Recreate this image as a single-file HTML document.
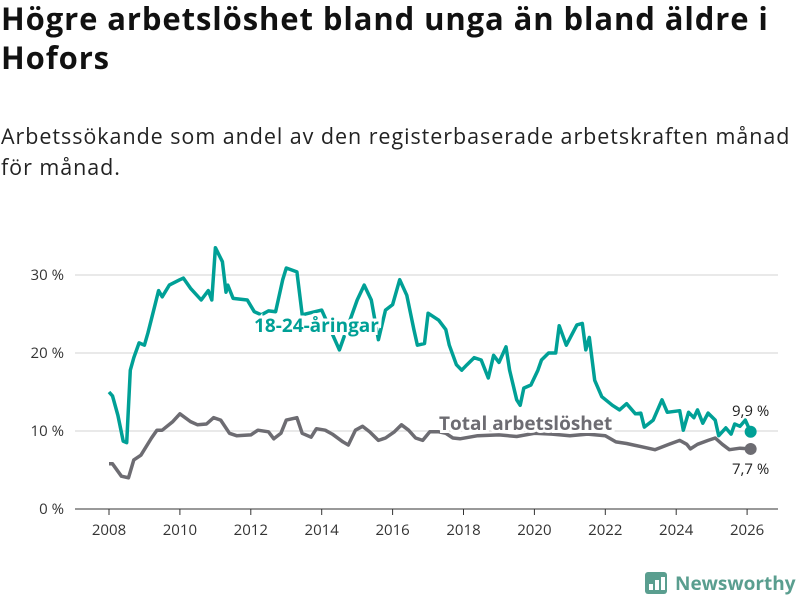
<!DOCTYPE html>
<html><head><meta charset="utf-8">
<style>
body{margin:0;background:#fff;font-family:"Open Sans","DejaVu Sans","Liberation Sans",sans-serif;}
#wrap{position:relative;width:800px;height:600px;overflow:hidden;}
h1{position:absolute;left:1px;top:0;margin:0;font-size:31px;line-height:39px;font-weight:bold;color:#111;width:799px;letter-spacing:0.9px;white-space:nowrap;}
.sub{position:absolute;left:1px;top:121px;font-size:21.5px;line-height:31px;color:#222;width:799px;letter-spacing:0.95px;white-space:nowrap;}
svg{position:absolute;left:0;top:0;}
</style></head><body>
<div id="wrap">
<h1>Högre arbetslöshet bland unga än bland äldre i<br>Hofors</h1>
<div class="sub">Arbetssökande som andel av den registerbaserade arbetskraften månad<br>för månad.</div>
<svg id="chart" width="800" height="600"></svg>
</div>
<script>
const youthT=[2008.0,2008.1,2008.25,2008.4,2008.5,2008.6,2008.7,2008.85,2009.0,2009.1,2009.3,2009.4,2009.5,2009.7,2010.0,2010.1,2010.3,2010.6,2010.8,2010.9,2011.0,2011.2,2011.3,2011.35,2011.5,2011.9,2012.1,2012.3,2012.5,2012.7,2012.9,2013.0,2013.3,2013.45,2014.0,2014.5,2015.0,2015.2,2015.4,2015.6,2015.8,2016.0,2016.2,2016.4,2016.6,2016.7,2016.9,2017.0,2017.3,2017.5,2017.6,2017.8,2017.95,2018.1,2018.3,2018.5,2018.7,2018.85,2019.0,2019.2,2019.3,2019.5,2019.6,2019.7,2019.9,2020.1,2020.2,2020.4,2020.6,2020.7,2020.9,2021.2,2021.35,2021.45,2021.55,2021.7,2021.9,2022.2,2022.4,2022.6,2022.85,2023.0,2023.1,2023.35,2023.6,2023.75,2024.1,2024.2,2024.35,2024.5,2024.6,2024.75,2024.9,2025.1,2025.2,2025.4,2025.55,2025.65,2025.8,2025.95,2026.1];
const youthV=[15.0,14.5,12.0,8.7,8.5,17.8,19.4,21.3,21.0,22.6,26.2,28.0,27.2,28.7,29.4,29.6,28.3,26.8,28.0,26.8,33.5,31.7,27.8,28.7,27.0,26.8,25.3,24.9,25.4,25.3,29.4,30.9,30.4,24.9,25.5,20.4,26.8,28.7,26.8,21.7,25.5,26.2,29.4,27.4,23.0,21.0,21.2,25.1,24.2,23.0,21.0,18.5,17.8,18.5,19.4,19.1,16.8,19.7,18.8,20.8,17.8,14.0,13.3,15.5,15.9,17.8,19.1,20.0,20.0,23.5,21.0,23.6,23.8,20.4,22.0,16.5,14.4,13.3,12.7,13.5,12.2,12.3,10.5,11.4,14.0,12.4,12.6,10.1,12.4,11.7,12.7,11.0,12.3,11.4,9.4,10.4,9.6,10.9,10.6,11.4,9.9];
const totalT=[2008.0,2008.1,2008.35,2008.55,2008.7,2008.9,2009.2,2009.35,2009.5,2009.8,2010.0,2010.3,2010.5,2010.75,2010.95,2011.15,2011.4,2011.6,2012.0,2012.2,2012.5,2012.65,2012.85,2013.0,2013.3,2013.45,2013.7,2013.85,2014.1,2014.3,2014.6,2014.75,2014.95,2015.15,2015.35,2015.6,2015.8,2016.05,2016.25,2016.45,2016.65,2016.85,2017.05,2017.3,2017.5,2017.7,2017.9,2018.4,2019.0,2019.5,2020.0,2020.5,2021.0,2021.5,2022.0,2022.3,2022.6,2023.0,2023.4,2023.8,2024.1,2024.3,2024.4,2024.6,2024.9,2025.1,2025.3,2025.5,2025.8,2026.1];
const totalV=[5.8,5.8,4.2,4.0,6.3,6.9,9.1,10.1,10.1,11.2,12.2,11.2,10.8,10.9,11.7,11.4,9.7,9.4,9.5,10.1,9.9,9.0,9.7,11.4,11.7,9.7,9.2,10.3,10.1,9.6,8.6,8.2,10.1,10.6,9.9,8.8,9.1,9.9,10.8,10.1,9.1,8.8,9.9,9.9,9.7,9.1,9.0,9.4,9.5,9.3,9.7,9.6,9.4,9.6,9.4,8.6,8.4,8.0,7.6,8.3,8.8,8.3,7.7,8.3,8.8,9.1,8.3,7.6,7.8,7.7];
const yTicks=[0,10,20,30];
const xTicks=[2008,2010,2012,2014,2016,2018,2020,2022,2024,2026];
const NS="http://www.w3.org/2000/svg";
const svg=document.getElementById('chart');
const X=t=>109+(t-2008)*35.45;
const Y=v=>509-v*7.8;
function mk(tag,attrs,parent){const e=document.createElementNS(NS,tag);for(const k in attrs)e.setAttribute(k,attrs[k]);(parent||svg).appendChild(e);return e;}
yTicks.forEach(v=>{
  const g=mk('line',{x1:75,x2:778,y1:Y(v),y2:Y(v),stroke:v===0?'#333':'#dcdcdc','stroke-width':v===0?1:1.3});
  
  
  const t=mk('text',{x:64,y:Y(v)+5,'text-anchor':'end','font-size':15,fill:'#333'});
  t.textContent=v+' %';
  
  
});
xTicks.forEach(v=>{
  const l=mk('line',{x1:X(v),x2:X(v),y1:509,y2:515,stroke:'#333'});
  
  
  const t=mk('text',{x:X(v),y:535,'text-anchor':'middle','font-size':15,fill:'#333'});
  t.textContent=v;
  
  
});
function line(T,V,col,name){
  const d=T.map((t,i)=>(i?'L':'M')+X(t).toFixed(1)+','+Y(V[i]).toFixed(1)).join('');
  const p=mk('path',{d:d,fill:'none',stroke:col,'stroke-width':3.5,'stroke-linejoin':'round'});
  
  
  const n=T.length-1;
  const c=mk('circle',{cx:X(T[n]),cy:Y(V[n]),r:6,fill:col});
  
  
}
line(totalT,totalV,'#6d6c72','total-line');
line(youthT,youthV,'#00a096','youth-line');
function lab(x,y,txt,col,name,anchor){
  const t=mk('text',{x:x,y:y,'font-size':19,'font-weight':'bold',fill:col,stroke:'#fff','stroke-width':6,'paint-order':'stroke','text-anchor':anchor||'start'});
  t.textContent=txt;
  
  
}
lab(254,332,'18-24-åringar','#00a096','youth-series-label');
lab(439,430,'Total arbetslöshet','#6d6c72','total-series-label');
function val(x,y,txt,name){
  const t=mk('text',{x:x,y:y,'font-size':15,fill:'#222','text-anchor':'middle'});
  t.textContent=txt;
  
  
}
val(X(youthT[youthT.length-1]),Y(youthV[youthV.length-1])-16,youthV[youthV.length-1].toFixed(1).replace('.',',')+' %','youth-end-value');
val(X(totalT[totalT.length-1]),Y(totalV[totalV.length-1])+25,totalV[totalV.length-1].toFixed(1).replace('.',',')+' %','total-end-value');
const lg=mk('g',{});


mk('rect',{x:645,y:572,width:22,height:22,rx:3,fill:'#5a9e8f'},lg);
mk('path',{d:'M649,590 L649,584 L653,584 L653,590 M655,590 L655,580 L659,580 L659,590 M661,590 L661,577 L665,577 L665,590',fill:'#fff'},lg);
const lt=mk('text',{x:675,y:590,'font-size':19,'font-weight':'bold',fill:'#5a9e8f'},lg);
lt.textContent='Newsworthy';
</script>
</body></html>
